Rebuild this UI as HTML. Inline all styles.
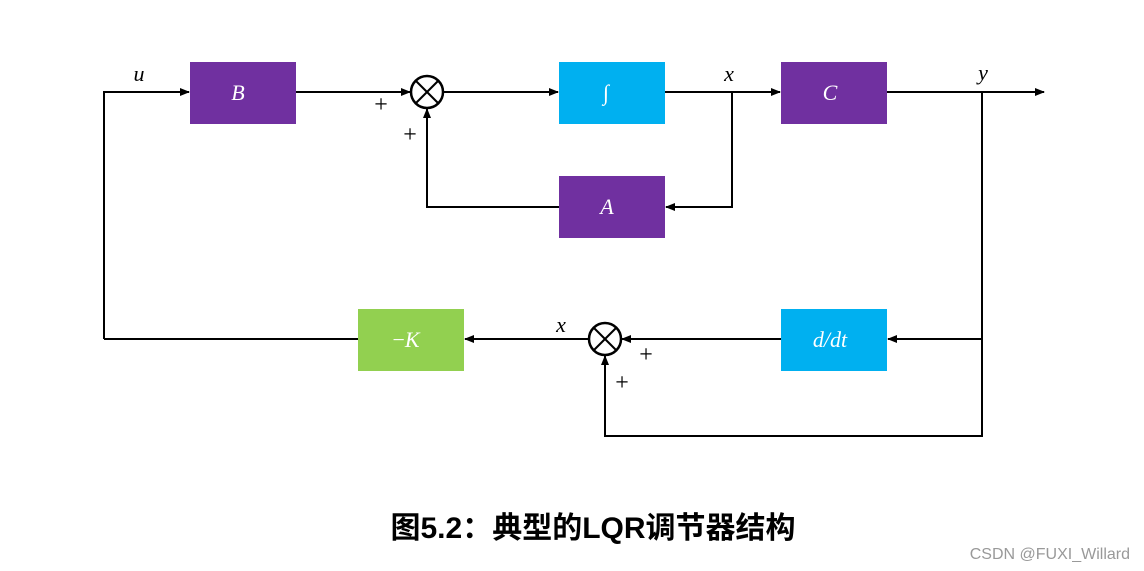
<!DOCTYPE html>
<html><head><meta charset="utf-8"><style>
html,body{margin:0;padding:0;background:#fff;}
svg{display:block}
</style></head><body>
<svg width="1144" height="571" viewBox="0 0 1144 571" xmlns="http://www.w3.org/2000/svg">
<defs>
<marker id="ar" markerWidth="10" markerHeight="8" refX="9" refY="4" orient="auto" markerUnits="userSpaceOnUse">
<path d="M0,0 L10,4 L0,8 Z" fill="#000"/>
</marker>
</defs>
<g stroke="#000" stroke-width="2" fill="none">
<!-- top main line -->
<polyline points="104,339 104,92 189,92" marker-end="url(#ar)"/>
<line x1="296" y1="92" x2="410" y2="92" marker-end="url(#ar)"/>
<line x1="443" y1="92" x2="558" y2="92" marker-end="url(#ar)"/>
<line x1="665" y1="92" x2="780" y2="92" marker-end="url(#ar)"/>
<line x1="887" y1="92" x2="1044" y2="92" marker-end="url(#ar)"/>
<!-- A loop -->
<polyline points="732,92 732,207 666,207" marker-end="url(#ar)"/>
<polyline points="559,207 427,207 427,109" marker-end="url(#ar)"/>
<!-- right feedback -->
<polyline points="982,92 982,436 605,436 605,356" marker-end="url(#ar)"/>
<line x1="982" y1="339" x2="888" y2="339" marker-end="url(#ar)"/>
<line x1="781" y1="339" x2="622" y2="339" marker-end="url(#ar)"/>
<line x1="589" y1="339" x2="465" y2="339" marker-end="url(#ar)"/>
<line x1="358" y1="339" x2="104" y2="339"/>
<!-- sum circles -->
<circle cx="427" cy="92" r="16" stroke-width="2.5"/>
<line x1="416" y1="81" x2="438" y2="103"/><line x1="438" y1="81" x2="416" y2="103"/>
<circle cx="605" cy="339" r="16" stroke-width="2.5"/>
<line x1="594" y1="328" x2="616" y2="350"/><line x1="616" y1="328" x2="594" y2="350"/>
</g>
<rect x="190" y="62" width="106" height="62" fill="#7030A0"/>
<rect x="559" y="62" width="106" height="62" fill="#00B0F0"/>
<rect x="781" y="62" width="106" height="62" fill="#7030A0"/>
<rect x="559" y="176" width="106" height="62" fill="#7030A0"/>
<rect x="358" y="309" width="106" height="62" fill="#92D050"/>
<rect x="781" y="309" width="106" height="62" fill="#00B0F0"/>
<g font-family="Liberation Serif, serif" font-style="italic" font-size="22" fill="#fff" text-anchor="middle">
<text x="238" y="100">B</text>
<text x="606" y="100">∫</text>
<text x="830" y="100">C</text>
<text x="607" y="214">A</text>
<text x="406" y="347"><tspan font-style="normal">−</tspan>K</text>
<text x="830" y="347">d/dt</text>
</g>
<g font-family="Liberation Serif, serif" font-style="italic" font-size="22" fill="#000" text-anchor="middle">
<text x="139" y="81">u</text>
<text x="729" y="81">x</text>
<text x="983" y="80">y</text>
<text x="561" y="332">x</text>
</g>
<g font-family="Liberation Serif, serif" font-size="24" fill="#000" text-anchor="middle">
<text x="381" y="112">+</text>
<text x="410" y="142">+</text>
<text x="646" y="362">+</text>
<text x="622" y="390">+</text>
</g>
<text x="593" y="538" font-family="Liberation Sans, Noto Sans CJK SC, sans-serif" font-weight="bold" font-size="30" fill="#000" text-anchor="middle">图5.2：典型的LQR调节器结构</text>
<text x="1130" y="559" font-family="Liberation Sans, Noto Sans CJK SC, sans-serif" font-size="16" fill="#999" text-anchor="end">CSDN @FUXI_Willard</text>
</svg>
</body></html>
